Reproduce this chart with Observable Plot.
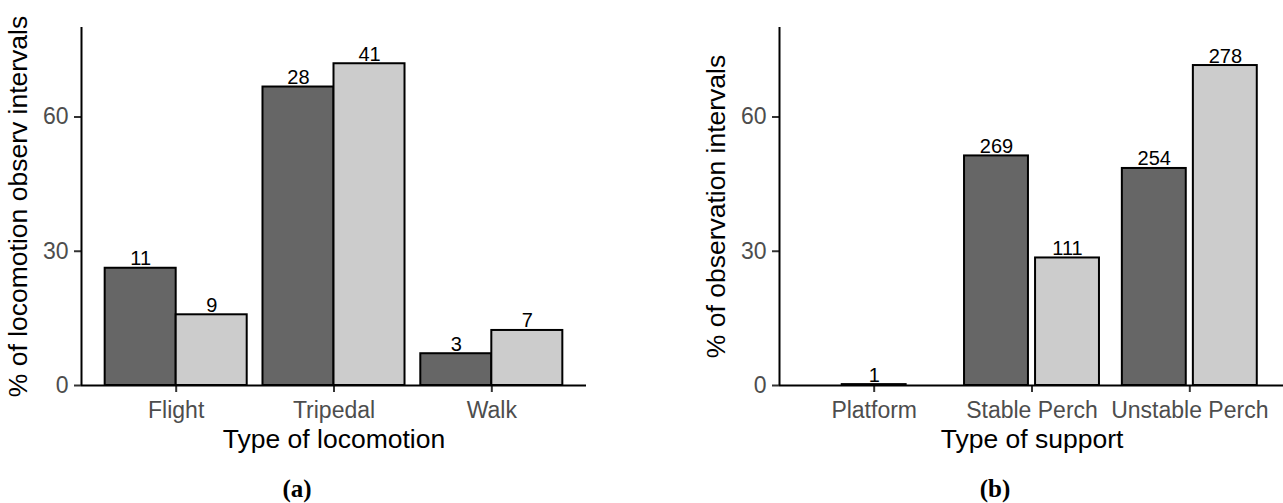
<!DOCTYPE html>
<html><head><meta charset="utf-8">
<script src="https://cdn.jsdelivr.net/npm/d3@7"></script>
<script src="https://cdn.jsdelivr.net/npm/@observablehq/plot@0.6"></script>
<style>
html,body{margin:0;padding:0;background:#fff;overflow:hidden;width:1283px;height:503px;}
#wrap{position:relative;width:1283px;height:503px;overflow:hidden;}
.panel{position:absolute;top:0;width:642px;height:460px;}
.cap{position:absolute;top:476px;font-family:"Liberation Serif","DejaVu Serif",serif;font-weight:bold;font-size:25px;line-height:26px;transform:translateX(-50%);color:#000;white-space:nowrap;}
</style></head><body><div id="wrap"></div>
<script>
// ---- data ----
const groups = ["dark", "light"];
const groupColors = ["#666666", "#cccccc"];

const locomotionTypes = ["Flight", "Tripedal", "Walk"];
const locomotionDarkPct = [26.2, 66.7, 7.1];
const locomotionLightPct = [15.8, 71.9, 12.3];
const locomotionDarkCount = [11, 28, 3];
const locomotionLightCount = [9, 41, 7];

const supportTypes = ["Platform", "Stable Perch", "Unstable Perch"];
const supportDarkPct = [0.2, 51.3, 48.5];
const supportLightPct = [null, 28.5, 71.5];
const supportDarkCount = [1, 269, 254];
const supportLightCount = [null, 111, 278];

const yTicks = [0, 30, 60];
const yMax = 80;

const FONT = "'Liberation Sans', Arial, Helvetica, sans-serif";

// dodge layout (like ggplot position_dodge / position_dodge2)
function buildRows(cats, dark, light, darkN, lightN, mode) {
  const rows = [];
  const slot = 0.9 / groups.length;
  cats.forEach((c, i) => {
    const center = i + 1;
    const present = [];
    if (dark[i] != null) present.push({group: "dark", pct: dark[i], count: darkN[i]});
    if (light[i] != null) present.push({group: "light", pct: light[i], count: lightN[i]});
    present.forEach((p, j) => {
      let x1, x2;
      if (mode === "dodge") {
        const w = 0.9 / present.length;
        x1 = center - 0.45 + j * w;
        x2 = x1 + w;
      } else {
        const total = present.length * slot;
        const mid = center - total / 2 + (j + 0.5) * slot;
        const w = slot * 0.9;
        x1 = mid - w / 2;
        x2 = mid + w / 2;
      }
      rows.push({cat: c, group: p.group, pct: p.pct, count: p.count, x1, x2, xm: (x1 + x2) / 2});
    });
  });
  return rows;
}

function panel(left, cats, dark, light, darkN, lightN, mode, xTitle, yTitle, caption, capX) {
  const rows = buildRows(cats, dark, light, darkN, lightN, mode);
  const xDomain = [0.4, cats.length + 0.6];
  const ticks = cats.map((c, i) => i + 1);
  const plot = Plot.plot({
    width: 642, height: 460,
    marginLeft: 81, marginRight: 56, marginTop: 27, marginBottom: 75,
    style: {fontFamily: FONT, fontSize: "23px", background: "transparent", overflow: "visible"},
    x: {type: "linear", domain: xDomain},
    y: {domain: [0, yMax]},
    color: {domain: groups, range: groupColors},
    marks: [
      Plot.rectY(rows, {x1: "x1", x2: "x2", y1: 0, y2: "pct", fill: "group", stroke: "black", strokeWidth: 2}),
      Plot.text(rows, {x: "xm", y: "pct", text: "count", lineAnchor: "bottom", dy: -3, fontSize: 20, fill: "black"}),
      Plot.axisX({ticks, tickFormat: i => cats[i - 1], tickSize: 7, tickPadding: 9, stroke: "#333333", strokeWidth: 2, fill: "#4d4d4d", fontSize: 23, label: null}),
      Plot.axisY({ticks: yTicks, tickSize: 7, tickPadding: 6, stroke: "#333333", strokeWidth: 2, fill: "#4d4d4d", fontSize: 23, label: null}),
      Plot.ruleY([0], {stroke: "black", strokeWidth: 2}),
      Plot.ruleX([xDomain[0]], {stroke: "black", strokeWidth: 2}),
      Plot.text([xTitle], {frameAnchor: "bottom", textAnchor: "middle", lineAnchor: "bottom", dy: 62, fontSize: 26.5, fill: "black"}),
      Plot.text([yTitle], {frameAnchor: "left", textAnchor: "middle", rotate: -90, lineAnchor: "bottom", dx: -55, fontSize: 26.5, fill: "black"})
    ]
  });
  const div = document.createElement("div");
  div.className = "panel";
  div.style.left = left + "px";
  div.appendChild(plot);
  document.getElementById("wrap").appendChild(div);
  const cap = document.createElement("div");
  cap.className = "cap";
  cap.style.left = capX + "px";
  cap.textContent = caption;
  document.getElementById("wrap").appendChild(cap);
}

panel(0, locomotionTypes, locomotionDarkPct, locomotionLightPct, locomotionDarkCount, locomotionLightCount,
  "dodge", "Type of locomotion", "% of locomotion observ intervals", "(a)", 297);
panel(698, supportTypes, supportDarkPct, supportLightPct, supportDarkCount, supportLightCount,
  "dodge2", "Type of support", "% of observation intervals", "(b)", 995);
</script>
</body></html>
